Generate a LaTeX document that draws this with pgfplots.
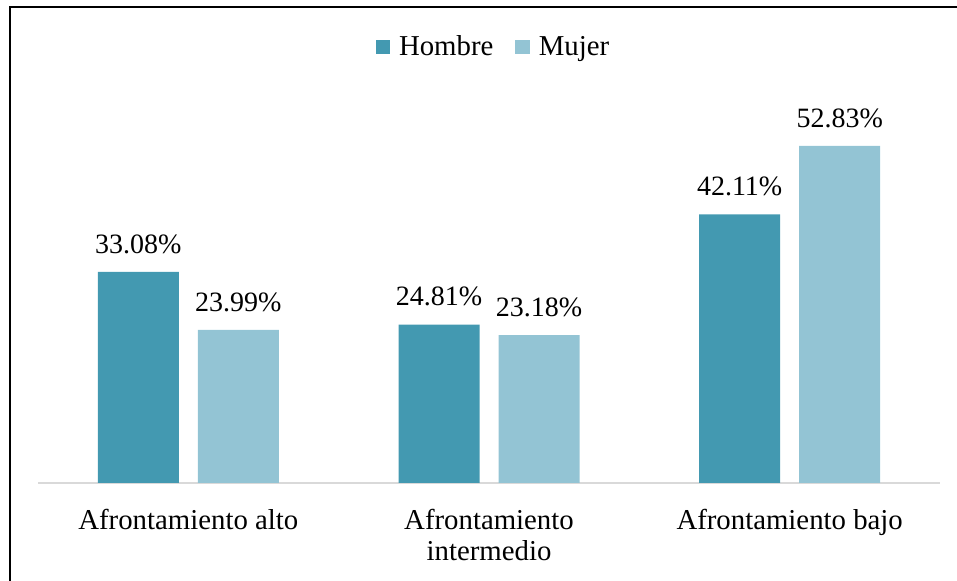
\documentclass[border=0pt]{standalone}
\usepackage{fontspec}
\setmainfont{Liberation Serif}
\usepackage{pgfplots}
\pgfplotsset{compat=1.18}
\definecolor{hombre}{HTML}{4399B1}
\definecolor{mujer}{HTML}{93C4D4}
\definecolor{axisgray}{HTML}{D9D9D9}
\begin{document}
\begin{tikzpicture}[x=1pt,y=1pt]
\useasboundingbox (0,0) rectangle (478.5,290.5);
\draw[line width=1pt,black] (4.75,-2) -- (4.75,286.75) -- (482,286.75);
\begin{axis}[
  at={(19pt,49pt)}, anchor=south west,
  scale only axis, width=451pt, height=191.4pt,
  xmin=-0.5, xmax=2.5, ymin=0, ymax=60,
  axis y line=none,
  axis x line*=bottom,
  x axis line style={draw=axisgray, line width=0.8pt, -},
  xtick={0,1,2},
  xtick style={draw=none},
  xticklabels={Afrontamiento alto, {Afrontamiento\\intermedio}, Afrontamiento bajo},
  xticklabel style={align=center, font=\fontsize{14.4}{15.5}\selectfont, inner sep=0pt, anchor=north, yshift=-8.4pt},
  ybar, bar width=40.5pt,
  nodes near coords,
  /pgf/number format/assume math mode=true,
  /pgf/number format/fixed, /pgf/number format/fixed zerofill, /pgf/number format/precision=2,
  nodes near coords={\pgfmathprintnumber{\pgfplotspointmeta}\%},
  every node near coord/.append style={font=\fontsize{14}{16}\selectfont, inner sep=0pt, anchor=south, yshift=9pt, text=black},
  legend style={at={(0.506,1)}, anchor=center, yshift=26.6pt, draw=none, fill=none, font=\fontsize{14.4}{16}\selectfont,
    /tikz/every odd column/.append style={column sep=2.5pt},
    /tikz/every even column/.append style={column sep=9pt}},
  legend columns=2,
  legend image code/.code={\fill[#1] (0pt,-3.6pt) rectangle (7.2pt,3.6pt);},
  clip=false,
]
\addplot[fill=hombre, draw=none, bar shift=-25pt] coordinates {(0,33.08) (1,24.81) (2,42.11)};
\addplot[fill=mujer, draw=none, bar shift=25pt] coordinates {(0,23.99) (1,23.18) (2,52.83)};
\legend{Hombre, Mujer}
\end{axis}
\end{tikzpicture}
\end{document}
